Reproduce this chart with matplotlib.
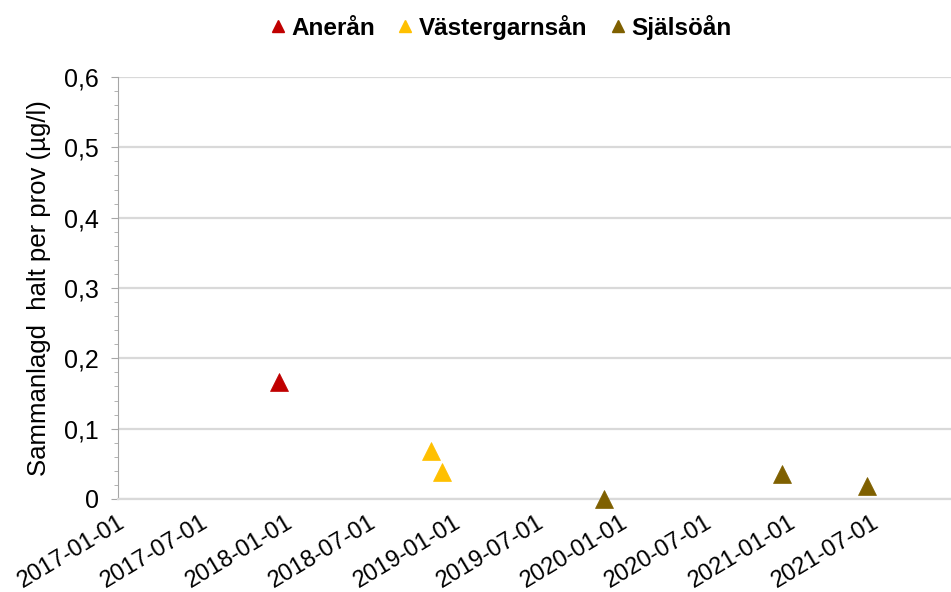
import matplotlib
matplotlib.use("Agg")
import matplotlib.pyplot as plt
import matplotlib.dates as mdates
from matplotlib.ticker import FuncFormatter, MultipleLocator
import numpy as np
import datetime as dt

plt.rcParams['font.family'] = ['Liberation Sans', 'DejaVu Sans']

series_names = ["Anerån", "Västergarnsån", "Själsöån"]
series_colors = ["#C00000", "#FFC000", "#7F6000"]
anerån_dates = ["2017-12-18"]
anerån_values = [0.167]
vastergarnsan_dates = ["2018-11-13", "2018-12-08"]
vastergarnsan_values = [0.068, 0.039]
sjalsoan_dates = ["2019-11-25", "2020-12-18", "2021-06-21"]
sjalsoan_values = [0.0, 0.0355, 0.019]
tick_dates = ["2017-01-01", "2017-07-01", "2018-01-01", "2018-07-01", "2019-01-01",
              "2019-07-01", "2020-01-01", "2020-07-01", "2021-01-01", "2021-07-01"]
ylabel = "Sammanlagd  halt per prov (µg/l)"

def to_dt(lst):
    return [dt.datetime.strptime(s, "%Y-%m-%d") for s in lst]

fig = plt.figure(figsize=(9.51, 5.92), dpi=100)
W, H = 951, 592
ax = fig.add_axes([118 / W, (H - 499) / H, (956 - 118) / W, (499 - 77) / H])

all_dates = [anerån_dates, vastergarnsan_dates, sjalsoan_dates]
all_vals = [anerån_values, vastergarnsan_values, sjalsoan_values]
handles = []
for name, col, d, v in zip(series_names, series_colors, all_dates, all_vals):
    ax.plot(to_dt(d), v, linestyle='none', marker='^', ms=12.5, color=col,
            markeredgecolor=col, markeredgewidth=0.5, zorder=3, clip_on=False)
    h, = ax.plot([], [], linestyle='none', marker='^', ms=8, color=col,
                 markeredgecolor=col, label=name)
    handles.append(h)

ax.set_xlim(dt.datetime(2017, 1, 1), dt.datetime(2022, 1, 1))
ax.set_ylim(0, 0.6)
ax.yaxis.set_major_locator(MultipleLocator(0.1))
ax.yaxis.set_minor_locator(MultipleLocator(0.02))
ax.yaxis.set_major_formatter(FuncFormatter(lambda v, p: "0" if abs(v) < 1e-9 else f"{v:.1f}".replace(".", ",")))
ax.set_xticks(mdates.date2num(to_dt(tick_dates)))
ax.set_xticklabels(tick_dates, rotation=31, ha='right', rotation_mode='anchor', fontsize=17)
ax.tick_params(axis='x', length=0, pad=9)
ax.tick_params(axis='y', which='major', length=5, color='#A6A6A6', labelsize=18, pad=9)
ax.tick_params(axis='y', which='minor', length=3, color='#A6A6A6')

ax.grid(axis='y', which='major', color='#D9D9D9', linewidth=1.6)
ax.set_axisbelow(True)
for s in ['top', 'right']:
    ax.spines[s].set_visible(False)
ax.spines['left'].set_color('#A6A6A6')
ax.spines['bottom'].set_color('#D9D9D9')
ax.spines['bottom'].set_linewidth(1.6)

ax.set_ylabel(ylabel, fontsize=18.5, labelpad=9)

fig.legend(handles=handles, loc='upper center', bbox_to_anchor=(499 / W, 1.0 + 7 / H), ncol=3,
           frameon=False, prop={'weight': 'bold', 'size': 17.5}, handletextpad=0.1,
           columnspacing=0.8, handlelength=0.9)

fig.savefig("out.png", dpi=100)
